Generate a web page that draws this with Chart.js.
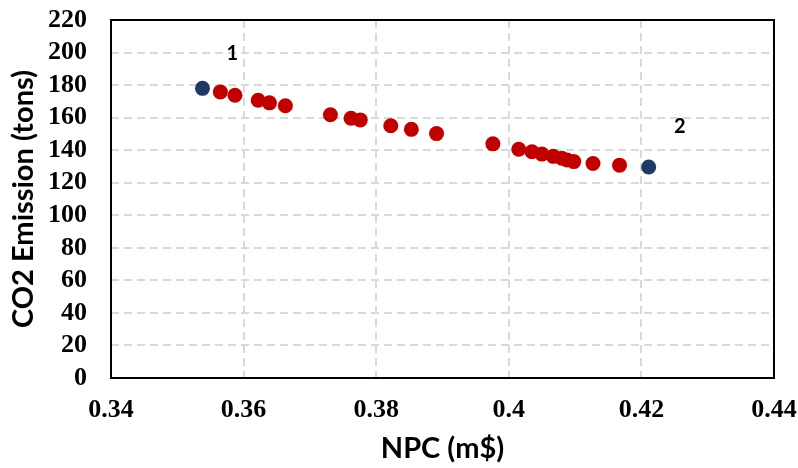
<!DOCTYPE html>
<html>
<head>
<meta charset="utf-8">
<script src="https://cdn.jsdelivr.net/npm/chart.js@4"></script>
<style>
  html, body { margin: 0; padding: 0; background: #ffffff; }
  #wrap { width: 798px; height: 468px; position: relative; }
</style>
</head>
<body>
<div id="wrap"><canvas id="myChart"></canvas></div>
<script>
// Pareto front: NPC (m$) vs CO2 emission (tons)
const npcRed = [0.3565, 0.3587, 0.3622, 0.3639, 0.3663, 0.3731, 0.3762, 0.3776, 0.3822,
                0.3853, 0.3891, 0.3976, 0.4015, 0.4035, 0.4050, 0.4067, 0.4080, 0.4088,
                0.4098, 0.4127, 0.4167];
const co2Red = [175.8, 173.8, 170.7, 169.1, 167.3, 161.8, 159.6, 158.6, 155.0,
                152.8, 150.2, 143.9, 140.6, 139.0, 137.6, 136.2, 135.0, 134.0,
                133.0, 131.8, 130.8];

// the two extreme solutions
const npcEnds = [0.3538, 0.4211];
const co2Ends = [178.0, 129.7];

// point annotations
const noteText = ['1', '2'];
const noteX = [0.3583, 0.4258];
const noteY = [199.6, 154.7];

const xTickLabels = ['0.34', '0.36', '0.38', '0.4', '0.42', '0.44'];
const yTickLabels = ['0', '20', '40', '60', '80', '100', '120', '140', '160', '180', '200', '220'];

const toPoints = (xs, ys) => xs.map((x, i) => ({ x: x, y: ys[i] }));

// black frame around the plot area
const frame = {
  id: 'frame',
  beforeDatasetsDraw(chart) {
    const { ctx, chartArea: a } = chart;
    ctx.save();
    ctx.strokeStyle = '#000000';
    ctx.lineWidth = 2;
    ctx.strokeRect(a.left, a.top, a.right - a.left, a.bottom - a.top);
    ctx.restore();
  }
};

// the "1" / "2" labels, placed through the scales
const notes = {
  id: 'notes',
  afterDatasetsDraw(chart) {
    const { ctx, scales } = chart;
    ctx.save();
    ctx.fillStyle = '#000000';
    ctx.font = "bold 20px Lato, 'Open Sans', sans-serif";
    ctx.textAlign = 'center';
    ctx.textBaseline = 'middle';
    noteText.forEach((t, i) => {
      ctx.fillText(t, scales.x.getPixelForValue(noteX[i]), scales.y.getPixelForValue(noteY[i]));
    });
    ctx.restore();
  }
};

const tickFont = { family: "'Liberation Serif', 'Times New Roman', serif", weight: 'bold', size: 26 };
const titleFont = { family: "Lato, 'Open Sans', sans-serif", weight: 'bold', size: 29 };

new Chart(document.getElementById('myChart'), {
  type: 'scatter',
  data: {
    datasets: [
      {
        label: 'Solutions',
        data: toPoints(npcRed, co2Red),
        backgroundColor: '#C00000',
        borderWidth: 0,
        pointRadius: 7.5
      },
      {
        label: 'Extremes',
        data: toPoints(npcEnds, co2Ends),
        backgroundColor: '#1F3864',
        borderWidth: 0,
        pointRadius: 7.5
      }
    ]
  },
  options: {
    responsive: true,
    maintainAspectRatio: false,
    animation: false,
    layout: { padding: { top: 20, right: 24, left: 0, bottom: 0 } },
    plugins: {
      legend: { display: false },
      tooltip: { enabled: false }
    },
    scales: {
      x: {
        type: 'linear',
        min: 0.34,
        max: 0.44,
        afterFit(scale) {
          scale.height = 90;
          scale.paddingLeft = 0;
          scale.paddingRight = 0;
        },
        ticks: {
          stepSize: 0.02,
          autoSkip: false,
          maxRotation: 0,
          color: '#000000',
          font: tickFont,
          padding: 17,
          callback: (v, i) => xTickLabels[i]
        },
        grid: { color: '#d9d9d9', lineWidth: 2, drawTicks: false },
        border: { display: false, dash: [8, 5] },
        title: {
          display: true,
          text: 'NPC (m$)',
          color: '#000000',
          font: titleFont,
          padding: { top: 0, bottom: 2 }
        }
      },
      y: {
        min: 0,
        max: 220,
        afterFit(scale) {
          scale.width = 111;
          scale.paddingTop = 0;
          scale.paddingBottom = 0;
        },
        ticks: {
          stepSize: 20,
          autoSkip: false,
          color: '#000000',
          font: tickFont,
          padding: 24,
          callback: (v, i) => yTickLabels[i]
        },
        grid: { color: '#d9d9d9', lineWidth: 2, drawTicks: false },
        border: { display: false, dash: [8, 5] },
        title: {
          display: true,
          text: 'CO2 Emission (tons)',
          color: '#000000',
          font: titleFont,
          padding: { top: 6, bottom: 0 }
        }
      }
    }
  },
  plugins: [frame, notes]
});
</script>
</body>
</html>
